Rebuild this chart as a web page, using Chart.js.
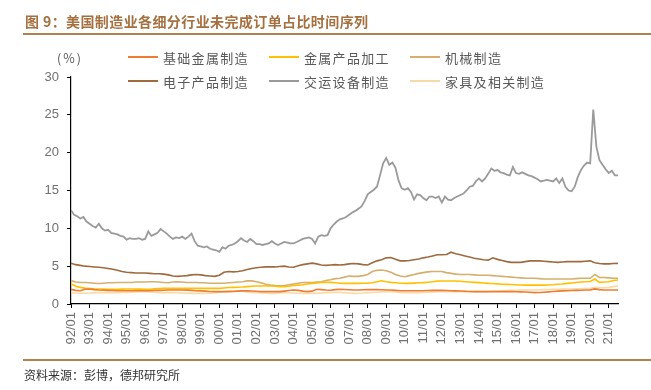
<!DOCTYPE html>
<html>
<head>
<meta charset="utf-8">
<script src="https://cdn.jsdelivr.net/npm/chart.js@4.4.1/dist/chart.umd.min.js"></script>
<style>
  html, body { margin: 0; padding: 0; background: #fff; }
  #wrap { position: relative; width: 651px; height: 390px; overflow: hidden; font-family: "Noto Sans CJK SC", sans-serif; }
  #chart { position: absolute; left: 0; top: 0; }
  .title { position: absolute; left: 25px; top: 11px; font-size: 14px; font-weight: bold; color: #A5703F; letter-spacing: 0.4px; line-height: 20px; white-space: nowrap; }
  .rule { position: absolute; left: 23px; width: 628px; height: 2px; background: #B3804F; }
  .source { position: absolute; left: 24px; top: 366px; font-size: 12px; color: #333; line-height: 18px; white-space: nowrap; }
  .unit { position: absolute; left: 57px; top: 49px; font-size: 12.5px; color: #595959; line-height: 18px; letter-spacing: 2px; }
  .legend { position: absolute; left: 128px; top: 45px; display: grid; grid-template-columns: 141px 141px 141px; grid-auto-rows: 24px; }
  .legend div { display: flex; align-items: center; font-size: 13px; letter-spacing: 1.3px; color: #595959; white-space: nowrap; }
  .legend span { display: inline-block; width: 30px; height: 2.5px; margin-right: 5px; }
</style>
</head>
<body>
<div id="wrap">
  <canvas id="chart" width="651" height="390"></canvas>
  <div class="title">图 9：美国制造业各细分行业未完成订单占比时间序列</div>
  <div class="rule" style="top:33px"></div>
  <div class="unit">(%)</div>
  <div class="legend" id="legend"></div>
  <div class="rule" style="top:359px"></div>
  <div class="source">资料来源：彭博，德邦研究所</div>
</div>
<script>
// 横轴刻度标签（每年 1 月）
const yearLabels = ['92/01', '93/01', '94/01', '95/01', '96/01', '97/01', '98/01', '99/01', '00/01', '01/01',
    '02/01', '03/01', '04/01', '05/01', '06/01', '07/01', '08/01', '09/01', '10/01', '11/01',
    '12/01', '13/01', '14/01', '15/01', '16/01', '17/01', '18/01', '19/01', '20/01', '21/01'];

// 季度数据（1/4/7/10 月），1992/01 - 2021/07，单位 %
const basicMetals = [
    1.94, 1.8, 1.76, 1.95, 1.98, 1.9, 1.85, 1.82, 1.8, 1.78, 1.76, 1.76,
    1.76, 1.76, 1.76, 1.76, 1.76, 1.76, 1.78, 1.8, 1.82, 1.85, 1.85, 1.85,
    1.85, 1.84, 1.8, 1.76, 1.74, 1.7, 1.66, 1.63, 1.63, 1.63, 1.63, 1.66,
    1.7, 1.74, 1.76, 1.72, 1.68, 1.63, 1.63, 1.63, 1.63, 1.63, 1.7, 1.78,
    1.85, 1.8, 1.7, 1.63, 1.7, 1.94, 1.9, 1.85, 1.82, 1.9, 1.94, 1.92,
    1.88, 1.85, 1.85, 1.88, 1.9, 1.92, 1.9, 1.88, 1.86, 1.85, 1.8, 1.76,
    1.76, 1.76, 1.76, 1.76, 1.76, 1.78, 1.8, 1.8, 1.8, 1.78, 1.76, 1.74,
    1.72, 1.68, 1.65, 1.63, 1.63, 1.63, 1.63, 1.63, 1.63, 1.63, 1.63, 1.63,
    1.62, 1.6, 1.58, 1.55, 1.5, 1.52, 1.56, 1.6, 1.65, 1.7, 1.74, 1.76,
    1.78, 1.8, 1.82, 1.85, 1.85, 2.0, 1.9, 1.85, 1.85, 1.85, 1.85
];
const metalProducts = [
    2.7, 2.35, 2.2, 2.1, 2.05, 2.0, 1.98, 1.96, 1.95, 1.94, 1.94, 1.96,
    1.98, 1.98, 1.97, 1.96, 1.95, 1.95, 2.0, 2.05, 2.07, 2.07, 2.07, 2.07,
    2.07, 2.07, 2.07, 2.07, 2.07, 2.07, 2.07, 2.07, 2.07, 2.12, 2.18, 2.2,
    2.22, 2.25, 2.3, 2.35, 2.38, 2.38, 2.38, 2.38, 2.35, 2.3, 2.3, 2.35,
    2.45, 2.5, 2.55, 2.65, 2.72, 2.78, 2.84, 2.86, 2.86, 2.8, 2.75, 2.73,
    2.73, 2.73, 2.73, 2.75, 2.75, 2.8, 2.95, 3.08, 2.95, 2.86, 2.8, 2.75,
    2.73, 2.73, 2.76, 2.8, 2.82, 2.88, 2.95, 3.02, 3.04, 3.04, 3.04, 3.03,
    3.0, 2.95, 2.9, 2.86, 2.82, 2.78, 2.73, 2.7, 2.66, 2.62, 2.6, 2.57,
    2.55, 2.52, 2.5, 2.5, 2.5, 2.5, 2.5, 2.52, 2.55, 2.6, 2.65, 2.72,
    2.78, 2.84, 2.9, 2.95, 2.98, 3.3, 2.86, 2.9, 2.95, 3.1, 3.17
];
const machinery = [
    3.1, 2.9, 2.85, 2.85, 2.8, 2.75, 2.7, 2.75, 2.8, 2.8, 2.85, 2.85,
    2.85, 2.85, 2.9, 2.9, 2.9, 2.95, 2.95, 2.9, 2.85, 2.8, 2.9, 2.95,
    2.9, 2.85, 2.85, 2.85, 2.8, 2.8, 2.75, 2.75, 2.75, 2.75, 2.8, 2.85,
    2.9, 2.95, 3.05, 3.05, 2.95, 2.8, 2.6, 2.5, 2.45, 2.4, 2.45, 2.55,
    2.65, 2.75, 2.85, 2.85, 2.85, 2.9, 2.95, 3.1, 3.2, 3.35, 3.4, 3.55,
    3.7, 3.65, 3.65, 3.75, 3.9, 4.3, 4.45, 4.5, 4.4, 4.2, 3.9, 3.7,
    3.6, 3.75, 3.9, 4.05, 4.15, 4.25, 4.3, 4.3, 4.3, 4.15, 4.05, 3.95,
    3.9, 3.9, 3.9, 3.85, 3.8, 3.8, 3.8, 3.75, 3.7, 3.65, 3.6, 3.55,
    3.5, 3.45, 3.4, 3.4, 3.4, 3.35, 3.3, 3.3, 3.3, 3.3, 3.3, 3.3,
    3.3, 3.35, 3.4, 3.4, 3.4, 3.9, 3.5, 3.5, 3.45, 3.4, 3.4
];
const electronics = [
    5.4, 5.2, 5.1, 5.0, 4.95, 4.9, 4.85, 4.8, 4.7, 4.6, 4.45, 4.3,
    4.2, 4.15, 4.1, 4.1, 4.1, 4.05, 4.0, 4.0, 3.95, 3.85, 3.7, 3.65,
    3.7, 3.75, 3.85, 3.9, 3.85, 3.75, 3.7, 3.65, 3.8, 4.2, 4.3, 4.25,
    4.3, 4.4, 4.55, 4.7, 4.8, 4.85, 4.9, 4.9, 4.9, 4.95, 5.0, 4.9,
    4.85, 5.05, 5.2, 5.3, 5.4, 5.3, 5.15, 5.1, 5.15, 5.2, 5.15, 5.2,
    5.3, 5.35, 5.3, 5.2, 5.15, 5.45, 5.7, 5.85, 6.1, 6.15, 5.9, 5.7,
    5.7, 5.75, 5.85, 5.95, 6.1, 6.2, 6.35, 6.5, 6.5, 6.55, 6.85, 6.65,
    6.5, 6.35, 6.2, 6.05, 5.95, 5.85, 5.8, 6.1, 5.9, 5.75, 5.6, 5.5,
    5.5, 5.5, 5.6, 5.7, 5.7, 5.7, 5.65, 5.6, 5.55, 5.5, 5.55, 5.6,
    5.6, 5.6, 5.6, 5.65, 5.7, 5.45, 5.35, 5.3, 5.3, 5.35, 5.37
];
const furniture = [
    1.5, 1.45, 1.42, 1.42, 1.45, 1.5, 1.5, 1.5, 1.5, 1.5, 1.5, 1.52,
    1.54, 1.55, 1.58, 1.62, 1.63, 1.6, 1.55, 1.5, 1.5, 1.5, 1.5, 1.48,
    1.45, 1.43, 1.41, 1.41, 1.41, 1.41, 1.41, 1.45, 1.55, 1.63, 1.7, 1.76,
    1.76, 1.7, 1.6, 1.5, 1.48, 1.45, 1.42, 1.41, 1.41, 1.45, 1.5, 1.48,
    1.45, 1.42, 1.41, 1.41, 1.41, 1.41, 1.45, 1.5, 1.52, 1.54, 1.54, 1.5,
    1.45, 1.41, 1.42, 1.45, 1.5, 1.52, 1.56, 1.6, 1.63, 1.63, 1.58, 1.52,
    1.5, 1.5, 1.5, 1.5, 1.52, 1.55, 1.6, 1.63, 1.63, 1.63, 1.63, 1.63,
    1.63, 1.63, 1.63, 1.63, 1.63, 1.63, 1.65, 1.68, 1.72, 1.76, 1.78, 1.8,
    1.82, 1.85, 1.85, 1.85, 1.86, 1.88, 1.9, 1.92, 1.94, 1.95, 1.96, 1.97,
    1.98, 2.0, 2.02, 2.05, 2.07, 2.2, 2.15, 2.16, 2.2, 2.3, 2.38
];

// 交运设备：双月数据（1/3/5/7/9/11 月），1992/01 - 2021/07
const transport = [
    12.4, 11.8, 11.6, 11.3, 11.5, 10.9,
    10.6, 10.3, 10.1, 10.6, 10.0, 9.7,
    9.8, 9.4, 9.3, 9.2, 9.0, 8.9,
    8.5, 8.7, 8.6, 8.6, 8.7, 8.5,
    8.6, 9.6, 9.0, 9.2, 9.4, 9.9,
    9.6, 9.3, 8.9, 8.6, 8.8, 8.7,
    8.9, 8.6, 8.9, 9.3, 8.3, 7.7,
    7.6, 7.5, 7.6, 7.3, 7.2, 7.1,
    6.9, 7.5, 7.3, 7.7, 7.8, 8.0,
    8.3, 8.7, 8.4, 8.2, 8.6, 8.3,
    7.9, 7.9, 7.8, 7.9, 8.0, 8.3,
    8.0, 7.8, 8.0, 8.2, 8.1, 8.0,
    8.0, 8.2, 8.4, 8.6, 8.7, 8.8,
    8.6, 8.0, 8.9, 9.1, 9.0, 9.1,
    10.0, 10.5, 10.9, 11.2, 11.3, 11.5,
    11.8, 12.1, 12.3, 12.6, 12.9, 13.6,
    14.5, 14.8, 15.1, 15.5, 17.0, 18.6,
    19.3, 18.4, 18.7, 18.0, 16.3, 15.3,
    15.1, 15.3, 14.8, 13.8, 14.5, 14.4,
    14.0, 13.7, 14.2, 14.2, 14.0, 14.2,
    13.4, 14.2, 13.8, 13.7, 14.0, 14.2,
    14.4, 14.6, 15.0, 15.5, 15.6, 16.2,
    16.6, 16.2, 16.6, 17.2, 17.9, 17.6,
    17.7, 17.4, 17.3, 17.1, 17.0, 18.1,
    17.3, 17.2, 17.4, 17.2, 17.0, 16.9,
    16.7, 16.5, 16.2, 16.3, 16.4, 16.3,
    16.2, 16.6, 16.0, 16.6, 15.5, 15.0,
    14.9, 15.5, 16.8, 17.7, 18.3, 18.7,
    18.6, 25.7, 20.8, 19.0, 18.4, 17.8,
    17.3, 17.6, 17.0, 17.0
];

const seriesNames = ['基础金属制造', '金属产品加工', '机械制造', '电子产品制造', '交运设备制造', '家具及相关制造'];
const seriesColors = ['#ED7D31', '#FFC000', '#D6AE6E', '#9E6A3E', '#9A9A9A', '#F8D9A8'];
const seriesValues = [basicMetals, metalProducts, machinery, electronics, transport, furniture];
const seriesStepMonths = [3, 3, 3, 3, 2, 3];

function toPoints(values, stepMonths) {
    return values.map((v, i) => ({ x: 1992 + i * stepMonths / 12, y: v }));
}

// 图例（三列两行）
const legendEl = document.getElementById('legend');
seriesNames.forEach((name, i) => {
    const item = document.createElement('div');
    item.innerHTML = '<span style="background:' + seriesColors[i] + '"></span>' + name;
    legendEl.appendChild(item);
});

const tickFont = { family: '"Liberation Sans", Arial, sans-serif', size: 13 };

new Chart(document.getElementById('chart'), {
    type: 'line',
    data: {
        datasets: seriesNames.map((name, i) => ({
            label: name,
            data: toPoints(seriesValues[i], seriesStepMonths[i]),
            borderColor: seriesColors[i],
            borderWidth: i === 4 ? 1.8 : 1.6,
            pointRadius: 0,
            tension: 0,
            fill: false
        }))
    },
    options: {
        responsive: false,
        animation: false,
        layout: { padding: { top: 77, right: 33, bottom: 30, left: 0 } },
        plugins: {
            legend: { display: false },
            tooltip: { enabled: false }
        },
        scales: {
            x: {
                type: 'linear',
                min: 1992,
                max: 2021.5,
                afterFit: scale => { scale.height = 56; },
                ticks: {
                    stepSize: 1,
                    includeBounds: false,
                    autoSkip: false,
                    minRotation: 90,
                    maxRotation: 90,
                    padding: 4,
                    color: '#707070',
                    font: tickFont,
                    callback: value => yearLabels[value - 1992]
                },
                grid: { drawOnChartArea: false, drawTicks: true, tickLength: 4, color: '#000' },
                border: { display: true, color: '#000', width: 1.2 }
            },
            y: {
                min: 0,
                max: 30,
                afterFit: scale => { scale.width = 71; },
                ticks: { stepSize: 5, padding: 8, color: '#707070', font: tickFont },
                grid: { drawOnChartArea: false, drawTicks: true, tickLength: 4, color: '#000' },
                border: { display: true, color: '#000', width: 1.2 }
            }
        }
    }
});
</script>
</body>
</html>
